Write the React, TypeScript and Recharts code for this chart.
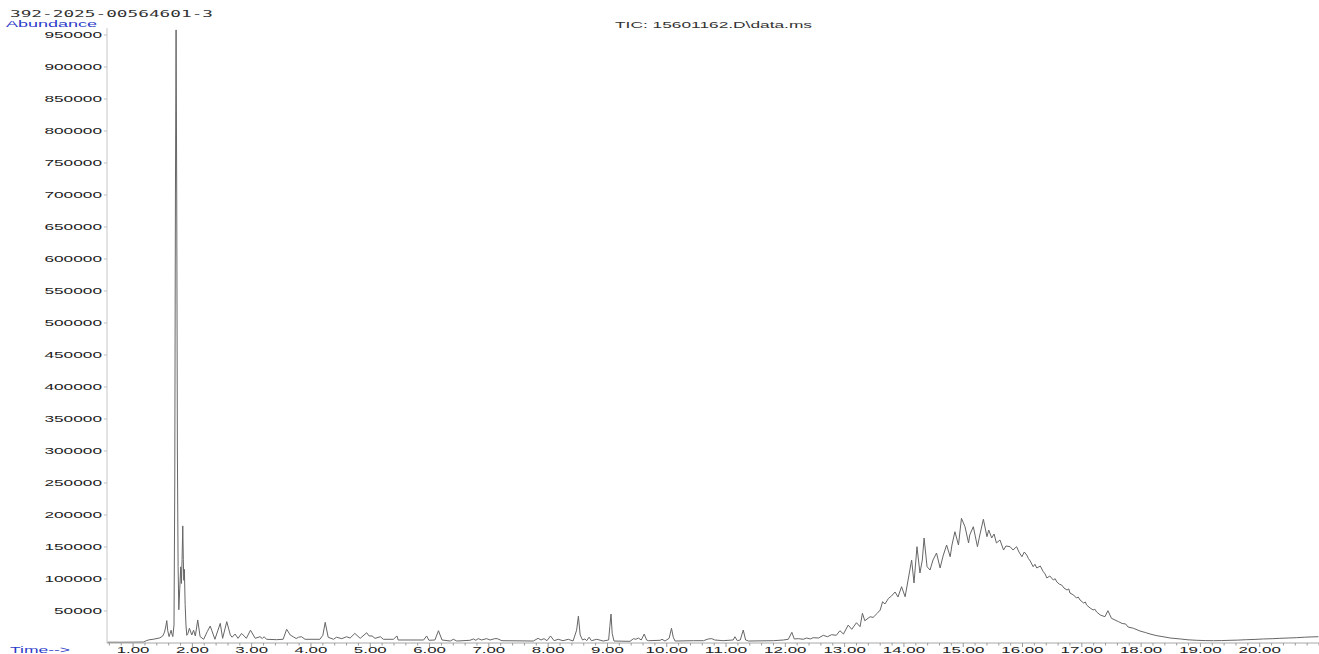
import { Line, LineChart, XAxis, YAxis } from 'recharts'

const WIDTH = 1319
const HEIGHT = 654

// retention time (min) and abundance
const solventTimes = [
  0.56, 0.8, 1.0, 1.18, 1.22, 1.27, 1.35, 1.45, 1.5, 1.53, 1.55, 1.568, 1.585, 1.607, 1.625, 1.641,
  1.655, 1.67, 1.69, 1.703, 1.714, 1.725, 1.736, 1.747, 1.759, 1.771, 1.787, 1.804, 1.815, 1.826,
  1.838, 1.847, 1.855, 1.865, 1.878, 1.892, 1.906, 1.925,
]
const solventAbundance = [
  1200, 1200, 1300, 1500, 3500, 5000, 6000, 8000, 11000, 17000, 25000, 35000, 19000, 10000, 15000,
  20000, 14000, 10000, 28000, 250000, 700000, 958000, 700000, 300000, 120000, 52000, 85000, 119000,
  93000, 130000, 183000, 130000, 98000, 115000, 60000, 28000, 12000, 15000,
]

const midTimes = [
  1.95, 1.99, 2.02, 2.05, 2.09, 2.13, 2.19, 2.25, 2.3, 2.33, 2.38, 2.47, 2.51, 2.58, 2.64, 2.67, 2.72,
  2.77, 2.83, 2.91, 2.98, 3.06, 3.14, 3.18, 3.21, 3.25, 3.42, 3.53, 3.59, 3.65, 3.7, 3.75, 3.79, 3.84,
  3.9, 4.15, 4.2, 4.24, 4.29, 4.38, 4.43, 4.52, 4.6, 4.66, 4.74, 4.83, 4.94, 4.98, 5.03, 5.08, 5.17,
  5.22, 5.39, 5.45, 5.47, 5.9, 5.95, 5.99, 6.09, 6.15, 6.21, 6.35, 6.4, 6.46, 6.68, 6.74, 6.78, 6.82,
  6.88, 6.96, 7.02, 7.1, 7.14, 7.22, 7.75, 7.83, 7.88, 7.93, 7.98, 8.04, 8.1, 8.17, 8.25, 8.34, 8.42,
  8.48, 8.51, 8.54, 8.58, 8.62, 8.65, 8.69, 8.73, 8.82, 8.93, 9.02, 9.04, 9.06, 9.08, 9.11, 9.38, 9.44,
  9.48, 9.52, 9.57, 9.62, 9.66, 9.69, 9.89, 9.92, 9.97, 10.04, 10.08, 10.11, 10.14, 10.45, 10.62, 10.7,
  10.76, 10.81, 10.95, 11.12, 11.15, 11.19, 11.24, 11.29, 11.33, 11.38, 11.8, 11.97, 12.05, 12.11,
  12.15, 12.22, 12.3, 12.36, 12.42, 12.47, 12.56, 12.64, 12.71, 12.78, 12.86, 12.92, 12.98, 13.06,
  13.12, 13.2, 13.26, 13.3, 13.34, 13.43, 13.48, 13.55, 13.6, 13.64, 13.68, 13.74,
]
const midAbundance = [
  23000, 12500, 20000, 11000, 36000, 10000, 5800, 17700, 26500, 19000, 5800, 30700, 7300, 33300, 12500,
  9000, 14000, 7300, 15000, 7300, 20000, 7300, 9800, 7000, 9800, 5800, 5200, 5800, 21400, 12500, 9800,
  7000, 9000, 9800, 5800, 5800, 12000, 32300, 9000, 5800, 9000, 6800, 9800, 7800, 15000, 7300, 16000,
  11000, 11000, 7300, 9800, 5800, 5800, 11000, 4700, 4700, 11000, 4200, 4700, 19200, 4700, 3100, 5800,
  3100, 4200, 6300, 4200, 6800, 4700, 6800, 4700, 6800, 6800, 3600, 3100, 7300, 4700, 6800, 3600,
  11000, 3600, 5800, 3600, 5800, 3100, 20000, 42000, 12500, 4700, 6300, 3600, 9000, 3600, 5800, 3100,
  4700, 25500, 45300, 15000, 3100, 2600, 6800, 5800, 7800, 4700, 14000, 4700, 3600, 4200, 5800, 3100,
  7300, 23000, 9000, 3100, 3600, 3600, 6300, 6800, 4700, 3600, 4700, 9800, 3600, 4700, 20300, 4700,
  3100, 3600, 4700, 5800, 16700, 6300, 6800, 5800, 7800, 6300, 8300, 7800, 12000, 9800, 13000, 12000,
  19200, 14000, 28000, 21400, 31700, 25500, 46400, 34800, 41000, 40000, 46400, 51500, 64500, 61000,
  69800,
]

const humpTimes = [
  13.79, 13.85, 13.9, 13.96, 14.02, 14.07, 14.13, 14.17, 14.22, 14.27, 14.31, 14.34, 14.39, 14.44,
  14.49, 14.55, 14.61, 14.66, 14.72, 14.78, 14.81, 14.86, 14.92, 14.97, 15.03, 15.09, 15.11, 15.17,
  15.24, 15.28, 15.34, 15.4, 15.43, 15.48, 15.52, 15.56, 15.62, 15.68, 15.72, 15.79, 15.84, 15.9,
  15.94, 15.99, 16.03, 16.07, 16.1, 16.13, 16.18, 16.21, 16.24, 16.3, 16.35, 16.38, 16.41, 16.46,
  16.52, 16.55, 16.58, 16.62, 16.66, 16.7, 16.75, 16.78, 16.8, 16.86, 16.91, 16.94, 16.97, 17.03,
  17.06, 17.08, 17.14, 17.19, 17.22, 17.25, 17.31, 17.39, 17.44, 17.5, 17.56, 17.62, 17.68, 17.74,
  17.78, 17.87, 17.98, 18.07, 18.15, 18.25, 18.37, 18.49, 18.66, 18.79, 18.94, 19.08, 19.22, 19.36,
  19.5, 19.63, 19.78, 19.92, 20.06, 20.21, 20.34, 20.48, 20.62, 20.76, 20.88, 20.99,
]
const humpAbundance = [
  73400, 79700, 71900, 88000, 72300, 98400, 129700, 93800, 150500, 109400, 129700, 164000, 119200,
  114000, 129700, 140600, 117200, 135900, 153100, 134800, 153100, 173900, 153100, 194800, 181700,
  156300, 168800, 181700, 150500, 168800, 193300, 166100, 176600, 164100, 170300, 156300, 160900,
  145300, 151600, 150500, 145300, 150500, 142200, 134800, 142200, 137500, 132000, 128100, 119200,
  123000, 117200, 120300, 111400, 108000, 101600, 104700, 98400, 100500, 95300, 92000, 90600, 85900,
  82800, 84500, 78100, 75000, 70300, 71800, 67200, 62500, 64000, 59400, 54700, 51600, 52800, 48400,
  43800, 41100, 50500, 38600, 35900, 33300, 30500, 29700, 25000, 23000, 18800, 16400, 14100, 11700,
  9800, 7800, 6300, 5000, 4200, 3800, 3600, 3800, 4200, 4500, 5200, 5600, 6300, 6700, 7300, 7800, 8300,
  9100, 9500, 9800,
]

const timeLabels = [1, 2, 3, 4, 5, 6, 7, 8, 9, 10, 11, 12, 13, 14, 15, 16, 17, 18, 19, 20]
const abundanceTicks = [
  50000, 100000, 150000, 200000, 250000, 300000, 350000, 400000, 450000, 500000, 550000, 600000,
  650000, 700000, 750000, 800000, 850000, 900000, 950000,
]

// minor ticks every 0.2 min between the labelled minutes
const timeTicks = Array.from({ length: 103 }, (_, i) => Math.round((0.6 + i * 0.2) * 10) / 10)

const trace = [
  ...solventTimes.map((t, i) => ({ t, a: solventAbundance[i] })),
  ...midTimes.map((t, i) => ({ t, a: midAbundance[i] })),
  ...humpTimes.map((t, i) => ({ t, a: humpAbundance[i] })),
]

const BLUE = '#2b3cc8'
const AXIS_Y = 643

function labelLength(s: string) {
  let w = 0
  for (const ch of s) w += ch === '.' ? 4 : 9.6
  return w
}

function TimeTick({ x, payload }: { x?: number; payload?: { value: number } }) {
  const v = payload?.value ?? 0
  const major = timeLabels.includes(v)
  const label = v.toFixed(2)
  return (
    <g>
      <line x1={x} x2={x} y1={AXIS_Y} y2={AXIS_Y + (major ? 4 : 2.5)} stroke="#9a9a9a" />
      {major && (
        <text
          x={x}
          y={653}
          textAnchor="middle"
          fontFamily="'Liberation Sans', Arial, sans-serif"
          fontSize={9.5}
          fill="#222"
          textLength={labelLength(label)}
          lengthAdjust="spacingAndGlyphs"
        >
          {label}
        </text>
      )}
    </g>
  )
}

function AbundanceTick({ y, payload }: { y?: number; payload?: { value: number } }) {
  const label = String(payload?.value ?? '')
  return (
    <text
      x={102}
      y={(y ?? 0) + 3.3}
      textAnchor="end"
      fontFamily="'Liberation Sans', Arial, sans-serif"
      fontSize={9.5}
      fill="#222"
      textLength={labelLength(label)}
      lengthAdjust="spacingAndGlyphs"
    >
      {label}
    </text>
  )
}

export default function App() {
  return (
    <div style={{ position: 'absolute', left: 0, top: 0, width: WIDTH, height: HEIGHT, background: '#fff' }}>
      <LineChart width={WIDTH} height={HEIGHT} data={trace} margin={{ top: 28, right: 0, bottom: 0, left: 0 }}>
        <XAxis
          dataKey="t"
          type="number"
          domain={[0.56, 21]}
          ticks={timeTicks}
          interval={0}
          allowDataOverflow
          height={11}
          tickLine={false}
          axisLine={{ stroke: '#a8a8a8' }}
          tick={<TimeTick />}
        />
        <YAxis
          type="number"
          domain={[0, 961000]}
          ticks={abundanceTicks}
          interval={0}
          allowDataOverflow
          width={107}
          tickSize={3}
          tickLine={{ stroke: '#c0c0c0' }}
          axisLine={{ stroke: '#c8c8c8' }}
          tick={<AbundanceTick />}
        />
        <Line
          dataKey="a"
          type="linear"
          stroke="#666"
          strokeWidth={1}
          dot={false}
          isAnimationActive={false}
        />
      </LineChart>
      <svg
        width={WIDTH}
        height={HEIGHT}
        style={{ position: 'absolute', left: 0, top: 0, pointerEvents: 'none' }}
      >
        <text
          x={10}
          y={16.5}
          fontFamily="'DejaVu Sans Mono', monospace"
          fontSize={9}
          fill="#333"
          textLength={203}
          lengthAdjust="spacingAndGlyphs"
        >
          392-2025-00564601-3
        </text>
        <text
          x={6}
          y={27}
          fontFamily="'Liberation Sans', Arial, sans-serif"
          fontSize={9}
          fill={BLUE}
          textLength={91}
          lengthAdjust="spacingAndGlyphs"
        >
          Abundance
        </text>
        <text
          x={615}
          y={28}
          fontFamily="'Liberation Sans', Arial, sans-serif"
          fontSize={9.5}
          fill="#333"
          textLength={197}
          lengthAdjust="spacingAndGlyphs"
        >
          TIC: 15601162.D\data.ms
        </text>
        <text
          x={10}
          y={653}
          fontFamily="'Liberation Sans', Arial, sans-serif"
          fontSize={8.5}
          fill={BLUE}
          textLength={60}
          lengthAdjust="spacingAndGlyphs"
        >
          Time--&gt;
        </text>
      </svg>
    </div>
  )
}
